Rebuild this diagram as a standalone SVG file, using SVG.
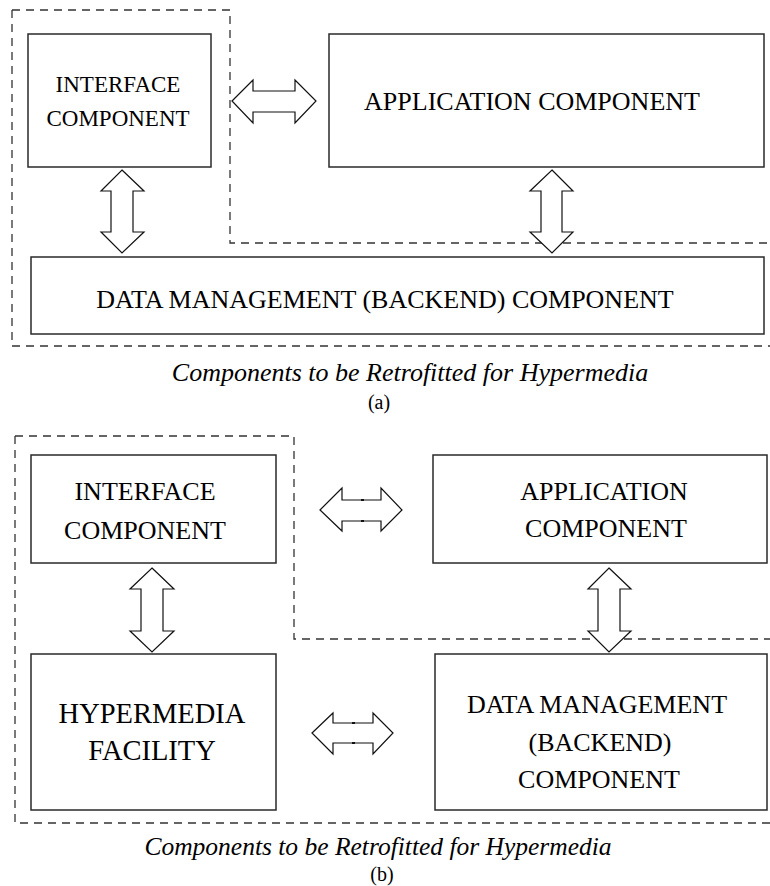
<svg xmlns="http://www.w3.org/2000/svg" width="770" height="886" viewBox="0 0 770 886">
<style>
.bg{fill:#fff}
.dash{fill:none;stroke:#333;stroke-width:1.3;stroke-dasharray:8 6}
.box{fill:#fff;stroke:#2a2a2a;stroke-width:1.5}
.arrow{fill:#fff;stroke:#111;stroke-width:1.2;stroke-linejoin:miter}
.tick{stroke:#111;stroke-width:2}
.t{font-family:"Liberation Serif","Times New Roman",serif;fill:#000;text-anchor:middle}
.cap{font-family:"Liberation Serif","Times New Roman",serif;fill:#000;text-anchor:middle;font-style:italic}
</style>
<rect class="bg" x="0" y="0" width="770" height="886"/>
<g id="regions">
<path class="dash" d="M12,10 H230 V243 H770"/>
<path class="dash" d="M12,10 V346 H770"/>
<path class="dash" d="M15,436 H294 V639 H770"/>
<path class="dash" d="M15,436 V823 H770"/>
</g>
<g id="connectors">
<polygon class="arrow" points="232,101 253,80 253,91 295,91 295,80 316,101 295,123 295,112 253,112 253,123"/>
<polygon class="arrow" points="122,170 144,191 133,191 133,232 144,232 122,253 101,232 111,232 111,191 101,191"/>
<polygon class="arrow" points="552,170 573,191 562,191 562,232 573,232 552,253 530,232 541,232 541,191 530,191"/>
<polygon class="arrow" points="320,510 342,488 342,500 381,500 381,488 402,510 381,531 381,521 342,521 342,531"/>
<line class="tick" x1="361" y1="500" x2="364" y2="500"/>
<line class="tick" x1="361" y1="521" x2="364" y2="521"/>
<polygon class="arrow" points="312,733 333,713 333,723 373,723 373,713 393,733 373,754 373,743 333,743 333,754"/>
<line class="tick" x1="352" y1="723" x2="355" y2="723"/>
<line class="tick" x1="352" y1="743" x2="355" y2="743"/>
<polygon class="arrow" points="152,568 174,589 163,589 163,631 174,631 152,652 130,631 141,631 141,589 130,589"/>
<polygon class="arrow" points="609,568 631,589 620,589 620,631 631,631 609,652 588,631 598,631 598,589 588,589"/>
</g>
<g id="a-interface">
<rect class="box" x="28" y="34" width="183" height="133"/>
<text class="t" x="118" y="92" font-size="23">INTERFACE</text>
<text class="t" x="118" y="126" font-size="23">COMPONENT</text>
</g>
<g id="a-application">
<rect class="box" x="329" y="34" width="435" height="133"/>
<text class="t" x="532" y="110" font-size="26">APPLICATION COMPONENT</text>
</g>
<g id="a-data">
<rect class="box" x="31" y="257" width="733" height="77"/>
<text class="t" x="385" y="308" font-size="26">DATA MANAGEMENT (BACKEND) COMPONENT</text>
</g>
<g id="a-caption">
<text class="cap" x="410" y="381" font-size="26">Components to be Retrofitted for Hypermedia</text>
<text class="t" x="379" y="409" font-size="20">(a)</text>
</g>
<g id="b-interface">
<rect class="box" x="31" y="455" width="245" height="108"/>
<text class="t" x="145" y="500" font-size="26">INTERFACE</text>
<text class="t" x="145" y="539" font-size="26">COMPONENT</text>
</g>
<g id="b-hypermedia">
<rect class="box" x="31" y="654" width="245" height="156"/>
<text class="t" x="152" y="723" font-size="28.5">HYPERMEDIA</text>
<text class="t" x="152" y="760" font-size="28.5">FACILITY</text>
</g>
<g id="b-application">
<rect class="box" x="433" y="455" width="334" height="108"/>
<text class="t" x="604" y="500" font-size="26">APPLICATION</text>
<text class="t" x="606" y="537" font-size="26">COMPONENT</text>
</g>
<g id="b-data">
<rect class="box" x="435" y="654" width="332" height="156"/>
<text class="t" x="597" y="713" font-size="26">DATA MANAGEMENT</text>
<text class="t" x="600" y="751" font-size="26">(BACKEND)</text>
<text class="t" x="599" y="788" font-size="26">COMPONENT</text>
</g>
<g id="b-caption">
<text class="cap" x="378" y="855" font-size="25.5">Components to be Retrofitted for Hypermedia</text>
<text class="t" x="382" y="881" font-size="20">(b)</text>
</g>
</svg>
